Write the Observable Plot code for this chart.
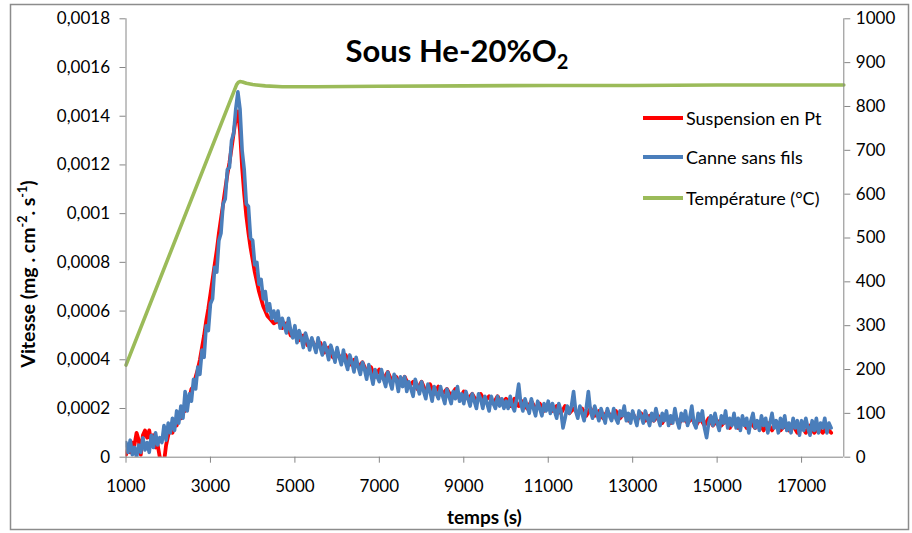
<!DOCTYPE html>
<html>
<head>
<meta charset="utf-8">
<script src="https://cdn.jsdelivr.net/npm/d3@7"></script>
<script src="https://cdn.jsdelivr.net/npm/@observablehq/plot@0.6"></script>
<style>
  html, body { margin: 0; padding: 0; background: #fff; }
  #chart { position: relative; width: 912px; height: 533px; }
</style>
</head>
<body>
<div id="chart"></div>
<script>
// ---- data (time in s, velocity in mg.cm-2.s-1, temperature in °C) ----
const xTicks = [1000, 3000, 5000, 7000, 9000, 11000, 13000, 15000, 17000];
const yTicks = [0, 0.0002, 0.0004, 0.0006, 0.0008, 0.001, 0.0012, 0.0014, 0.0016, 0.0018];
const tempTicks = [0, 100, 200, 300, 400, 500, 600, 700, 800, 900, 1000];
const seriesNames = ["Suspension en Pt", "Canne sans fils", "Température (°C)"];
const seriesColors = ["#FF0000", "#4A7EBB", "#9BBB59"];

const suspensionPt = [
  [1000,0.1e-4],[1050,0.4e-4],[1100,0.2e-4],[1150,0.6e-4],[1200,0.5e-4],[1250,1.0e-4],[1300,0.7e-4],[1350,0.1e-4],
  [1400,0.9e-4],[1450,1.1e-4],[1500,0.8e-4],[1550,1.1e-4],[1600,0.6e-4],[1650,0.9e-4],[1700,0.4e-4],[1750,0.5e-4],
  [1800,0.0],[1850,-0.4e-4],[1900,-0.2e-4],[1950,0.5e-4],[2000,0.9e-4],[2050,1.2e-4],[2100,1.0e-4],[2150,1.5e-4],
  [2200,1.3e-4],[2250,1.7e-4],[2300,1.6e-4],[2350,2.0e-4],[2400,1.9e-4],[2450,2.3e-4],[2500,2.4e-4],[2550,2.8e-4],
  [2600,2.9e-4],[2650,3.3e-4],[2700,3.6e-4],[2750,4.0e-4],[2800,4.5e-4],[2850,5.0e-4],[2900,5.6e-4],[2950,6.1e-4],
  [3000,6.7e-4],[3050,7.3e-4],[3100,7.9e-4],[3150,8.5e-4],[3200,9.2e-4],[3250,9.8e-4],[3300,10.4e-4],[3350,11.0e-4],
  [3400,11.6e-4],[3450,12.1e-4],[3500,12.7e-4],[3550,13.3e-4],[3600,13.9e-4],[3650,14.2e-4],[3700,13.4e-4],[3750,11.9e-4],
  [3800,10.8e-4],[3850,9.9e-4],[3900,9.2e-4],[3950,8.6e-4],[4000,8.1e-4],[4050,7.6e-4],[4100,7.2e-4],[4150,6.8e-4],
  [4200,6.5e-4],[4250,6.2e-4],[4300,6.0e-4],[4350,5.8e-4],[4400,5.7e-4],[4450,5.6e-4],[4500,5.5e-4],
  [4600,5.6e-4],[4700,5.3e-4],[4800,5.5e-4],[4900,5.0e-4],[5000,5.2e-4],[5100,4.8e-4],[5200,5.0e-4],[5300,4.6e-4],
  [5400,4.8e-4],[5500,4.5e-4],[5600,4.7e-4],[5700,4.3e-4],[5800,4.5e-4],[5900,4.1e-4],[6000,4.3e-4],[6100,4.0e-4],
  [6200,4.2e-4],[6300,3.8e-4],[6400,4.0e-4],[6500,3.7e-4],[6600,3.9e-4],[6700,3.5e-4],[6800,3.7e-4],[6900,3.3e-4],
  [7000,3.6e-4],[7100,3.2e-4],[7200,3.5e-4],[7300,3.1e-4],[7400,3.3e-4],[7500,3.0e-4],[7600,3.3e-4],[7700,2.9e-4],
  [7800,3.1e-4],[7900,2.8e-4],[8000,3.1e-4],[8100,2.7e-4],[8200,3.0e-4],[8300,2.6e-4],[8400,2.9e-4],[8500,2.6e-4],
  [8600,2.8e-4],[8700,2.5e-4],[8800,2.8e-4],[8900,2.4e-4],[9000,2.7e-4],[9100,2.4e-4],[9200,2.6e-4],[9300,2.3e-4],
  [9400,2.6e-4],[9500,2.3e-4],[9600,2.5e-4],[9700,2.2e-4],[9800,2.5e-4],[9900,2.2e-4],[10000,2.4e-4],[10100,2.1e-4],
  [10200,2.4e-4],[10300,2.1e-4],[10400,2.3e-4],[10500,2.0e-4],[10600,2.3e-4],[10700,2.0e-4],[10800,2.2e-4],[10900,1.9e-4],
  [11000,2.2e-4],[11100,1.9e-4],[11200,2.1e-4],[11300,1.8e-4],[11400,2.1e-4],[11500,1.8e-4],[11600,2.0e-4],[11700,1.8e-4],
  [11800,2.0e-4],[11900,1.7e-4],[12000,2.0e-4],[12100,1.7e-4],[12200,1.9e-4],[12300,1.6e-4],[12400,1.9e-4],[12500,1.6e-4],
  [12600,1.9e-4],[12700,1.6e-4],[12800,1.8e-4],[12900,1.5e-4],[13000,1.8e-4],[13100,1.5e-4],[13200,1.8e-4],[13300,1.5e-4],
  [13400,1.7e-4],[13500,1.5e-4],[13600,1.7e-4],[13700,1.4e-4],[13800,1.7e-4],[13900,1.4e-4],[14000,1.7e-4],[14100,1.4e-4],
  [14200,1.6e-4],[14300,1.4e-4],[14400,1.6e-4],[14500,1.3e-4],[14600,1.6e-4],[14700,1.3e-4],[14800,1.6e-4],[14900,1.3e-4],
  [15000,1.5e-4],[15100,1.3e-4],[15200,1.5e-4],[15300,1.2e-4],[15400,1.5e-4],[15500,1.2e-4],[15600,1.5e-4],[15700,1.2e-4],
  [15800,1.4e-4],[15900,1.2e-4],[16000,1.4e-4],[16100,1.1e-4],[16200,1.4e-4],[16300,1.1e-4],[16400,1.4e-4],[16500,1.1e-4],
  [16600,1.3e-4],[16700,1.1e-4],[16800,1.3e-4],[16900,1.0e-4],[17000,1.3e-4],[17100,1.0e-4],[17200,1.3e-4],[17300,1.0e-4],
  [17400,1.2e-4],[17500,1.0e-4],[17600,1.2e-4],[17700,1.0e-4]
];

const canneSansFils = [
  [1000,0.6e-4],[1050,0.2e-4],[1100,0.7e-4],[1150,0.1e-4],[1200,0.4e-4],[1250,0.0],[1300,0.5e-4],[1350,0.2e-4],
  [1400,0.8e-4],[1450,0.3e-4],[1500,0.6e-4],[1550,0.2e-4],[1600,0.9e-4],[1650,0.4e-4],[1700,1.0e-4],[1750,0.5e-4],
  [1800,0.8e-4],[1850,0.6e-4],[1900,1.3e-4],[1950,0.7e-4],[2000,1.4e-4],[2050,1.0e-4],[2100,1.6e-4],[2150,1.1e-4],
  [2200,1.9e-4],[2250,1.4e-4],[2300,2.1e-4],[2350,1.6e-4],[2400,2.7e-4],[2450,1.9e-4],[2500,2.6e-4],[2550,2.3e-4],
  [2600,3.2e-4],[2650,2.8e-4],[2700,3.7e-4],[2750,3.4e-4],[2800,4.4e-4],[2850,4.1e-4],[2900,5.4e-4],[2950,5.2e-4],
  [3000,6.3e-4],[3050,6.5e-4],[3100,7.8e-4],[3150,7.6e-4],[3200,8.9e-4],[3250,9.2e-4],[3300,10.4e-4],[3350,10.6e-4],
  [3400,11.8e-4],[3450,11.9e-4],[3500,13.0e-4],[3550,13.3e-4],[3600,14.3e-4],[3650,15.0e-4],[3700,14.3e-4],[3750,12.6e-4],
  [3800,11.8e-4],[3850,10.4e-4],[3900,10.3e-4],[3950,9.0e-4],[4000,8.9e-4],[4050,7.9e-4],[4100,8.0e-4],[4150,7.1e-4],
  [4200,7.3e-4],[4250,6.5e-4],[4300,6.8e-4],[4350,6.0e-4],[4400,6.3e-4],[4450,5.7e-4],[4500,6.0e-4],
  [4550,5.6e-4],[4600,6.0e-4],[4650,5.3e-4],[4700,5.7e-4],[4750,5.4e-4],[4800,5.1e-4],[4850,5.7e-4],[4900,5.2e-4],[4950,4.9e-4],[5000,5.4e-4],
  [5050,4.7e-4],[5100,5.2e-4],[5150,4.9e-4],[5200,4.5e-4],[5250,5.1e-4],[5300,4.8e-4],[5350,4.4e-4],[5400,4.9e-4],[5450,4.6e-4],[5500,4.3e-4],
  [5550,4.9e-4],[5600,4.5e-4],[5650,4.2e-4],[5700,4.7e-4],[5750,4.4e-4],[5800,4.0e-4],[5850,4.6e-4],[5900,4.3e-4],[5950,3.9e-4],[6000,4.5e-4],
  [6050,4.1e-4],[6100,3.8e-4],[6150,4.4e-4],[6200,3.9e-4],[6250,3.6e-4],[6300,4.2e-4],[6350,3.9e-4],[6400,3.5e-4],[6450,4.1e-4],[6500,3.7e-4],
  [6550,3.4e-4],[6600,3.9e-4],[6650,3.6e-4],[6700,3.2e-4],[6750,3.8e-4],[6800,3.4e-4],[6850,3.0e-4],[6900,3.6e-4],[6950,3.3e-4],[7000,3.1e-4],
  [7050,3.6e-4],[7100,3.2e-4],[7150,2.9e-4],[7200,3.5e-4],[7250,3.1e-4],[7300,2.8e-4],[7350,3.4e-4],[7400,3.2e-4],[7450,2.7e-4],[7500,3.3e-4],
  [7550,2.9e-4],[7600,3.3e-4],[7650,2.7e-4],[7700,3.1e-4],[7750,2.8e-4],[7800,2.5e-4],[7850,3.2e-4],[7900,2.9e-4],[7950,2.6e-4],[8000,3.1e-4],
  [8050,2.7e-4],[8100,2.4e-4],[8150,3.0e-4],[8200,2.7e-4],[8250,2.3e-4],[8300,2.9e-4],[8350,2.6e-4],[8400,2.4e-4],[8450,2.9e-4],[8500,2.5e-4],
  [8550,2.2e-4],[8600,2.8e-4],[8650,2.5e-4],[8700,2.2e-4],[8750,2.7e-4],[8800,2.4e-4],[8850,2.9e-4],[8900,2.3e-4],[8950,2.6e-4],[9000,2.2e-4],
  [9050,2.7e-4],[9100,2.4e-4],[9150,2.1e-4],[9200,2.6e-4],[9250,2.3e-4],[9300,2.0e-4],[9350,2.6e-4],[9400,2.4e-4],[9450,2.0e-4],[9500,2.5e-4],
  [9550,2.2e-4],[9600,1.9e-4],[9650,2.5e-4],[9700,2.2e-4],[9750,2.0e-4],[9800,2.5e-4],[9850,2.1e-4],[9900,2.4e-4],[9950,2.0e-4],[10000,2.3e-4],
  [10050,2.0e-4],[10100,2.5e-4],[10150,2.1e-4],[10200,1.9e-4],[10250,2.4e-4],[10300,3.0e-4],[10350,2.2e-4],[10400,1.9e-4],[10450,2.4e-4],[10500,2.1e-4],
  [10550,1.8e-4],[10600,2.4e-4],[10650,2.0e-4],[10700,1.7e-4],[10750,2.3e-4],[10800,2.0e-4],[10850,1.7e-4],[10900,2.2e-4],[10950,1.9e-4],[11000,2.3e-4],
  [11050,1.8e-4],[11100,2.2e-4],[11150,1.9e-4],[11200,1.6e-4],[11250,2.2e-4],[11300,1.9e-4],[11350,1.2e-4],[11400,1.6e-4],[11450,2.1e-4],[11500,1.8e-4],
  [11550,2.1e-4],[11600,2.7e-4],[11650,1.9e-4],[11700,1.6e-4],[11750,2.1e-4],[11800,1.8e-4],[11850,1.5e-4],[11900,2.0e-4],[11950,2.7e-4],[12000,1.9e-4],
  [12050,1.6e-4],[12100,2.1e-4],[12150,1.8e-4],[12200,1.5e-4],[12250,2.0e-4],[12300,1.7e-4],[12350,1.4e-4],[12400,2.0e-4],[12450,1.7e-4],[12500,1.5e-4],
  [12550,2.0e-4],[12600,1.6e-4],[12650,1.4e-4],[12700,1.9e-4],[12750,1.7e-4],[12800,2.1e-4],[12850,1.5e-4],[12900,1.8e-4],[12950,1.4e-4],[13000,1.9e-4],
  [13050,1.6e-4],[13100,1.3e-4],[13150,1.9e-4],[13200,1.7e-4],[13250,1.4e-4],[13300,1.9e-4],[13350,1.6e-4],[13400,1.3e-4],[13450,1.8e-4],[13500,1.5e-4],
  [13550,2.0e-4],[13600,1.6e-4],[13650,1.3e-4],[13700,1.8e-4],[13750,1.5e-4],[13800,1.9e-4],[13850,1.3e-4],[13900,1.7e-4],[13950,1.4e-4],[14000,2.0e-4],
  [14050,1.5e-4],[14100,1.2e-4],[14150,1.8e-4],[14200,1.5e-4],[14250,1.9e-4],[14300,1.3e-4],[14350,1.6e-4],[14400,2.1e-4],[14450,1.4e-4],[14500,1.2e-4],
  [14550,1.8e-4],[14600,1.5e-4],[14650,1.9e-4],[14700,1.2e-4],[14750,0.8e-4],[14800,1.4e-4],[14850,1.7e-4],[14900,1.3e-4],[14950,1.8e-4],[15000,1.4e-4],
  [15050,1.1e-4],[15100,1.7e-4],[15150,1.4e-4],[15200,1.9e-4],[15250,1.2e-4],[15300,1.6e-4],[15350,1.3e-4],[15400,1.8e-4],[15450,1.2e-4],[15500,1.6e-4],
  [15550,1.1e-4],[15600,1.7e-4],[15650,1.3e-4],[15700,1.6e-4],[15750,1.0e-4],[15800,1.5e-4],[15850,1.8e-4],[15900,1.2e-4],[15950,1.5e-4],[16000,1.1e-4],
  [16050,1.7e-4],[16100,1.3e-4],[16150,1.6e-4],[16200,1.0e-4],[16250,1.4e-4],[16300,1.8e-4],[16350,1.2e-4],[16400,1.5e-4],[16450,1.0e-4],[16500,1.6e-4],
  [16550,1.2e-4],[16600,1.7e-4],[16650,1.1e-4],[16700,1.4e-4],[16750,1.0e-4],[16800,1.6e-4],[16850,1.2e-4],[16900,1.5e-4],[16950,0.9e-4],[17000,1.5e-4],
  [17050,1.1e-4],[17100,1.6e-4],[17150,1.2e-4],[17200,0.9e-4],[17250,1.5e-4],[17300,1.1e-4],[17350,1.6e-4],[17400,1.0e-4],[17450,1.4e-4],[17500,1.2e-4],
  [17550,1.6e-4],[17600,1.0e-4],[17650,1.4e-4],[17700,1.2e-4]
];

const temperature = [
  [1000,210],[3620,850],[3660,855],[3700,857],[3760,856],[3850,853],[4000,850],[4300,847],[4700,845],
  [5500,845],[7000,846],[9000,847],[11000,848],[13000,848],[15000,849],[18000,849]
];

// ---- chart ----
const yMax = 0.0018, tMax = 1000;
const toY = T => T * yMax / tMax;   // maps the right (°C) axis onto the left axis range
const gray = "#868686";
const font = "Lato, 'Open Sans', sans-serif";

const plot = Plot.plot({
  width: 912,
  height: 533,
  marginLeft: 125.5,
  marginRight: 68.7,
  marginTop: 18.3,
  marginBottom: 76.3,
  style: { fontFamily: font, fontSize: "17px", color: "#000", background: "transparent" },
  x: { domain: [1000, 18000] },
  y: { domain: [0, yMax] },
  marks: [
    Plot.line(suspensionPt, { x: d => d[0], y: d => d[1], stroke: seriesColors[0], strokeWidth: 3.8, clip: true }),
    Plot.line(canneSansFils, { x: d => d[0], y: d => d[1], stroke: seriesColors[1], strokeWidth: 3.6, clip: true }),
    Plot.line(temperature, { x: d => d[0], y: d => toY(d[1]), stroke: seriesColors[2], strokeWidth: 3.6 }),
    Plot.ruleY([0], { stroke: gray, strokeWidth: 1 }),
    Plot.ruleX([1000, 18000], { stroke: gray, strokeWidth: 1 }),
    Plot.axisX({ ticks: xTicks, tickFormat: d => String(d), label: null, stroke: gray, fill: "#000",
                 tickSize: 6, tickPadding: 17 }),
    Plot.axisY({ ticks: yTicks, tickFormat: d => d === 0 ? "0" : String(d).replace(".", ","),
                 label: null, stroke: gray, fill: "#000", tickSize: 6, tickPadding: 10 }),
    Plot.axisY({ ticks: tempTicks.map(toY), tickFormat: d => String(Math.round(d * tMax / yMax)),
                 anchor: "right", label: null, stroke: gray, fill: "#000", tickSize: 6, tickPadding: 6 })
  ]
});

document.getElementById("chart").appendChild(plot);

// ---- decorations: outer frame, title, axis titles, legend ----
const svg = d3.select(plot);
svg.append("rect").attr("x", 10.5).attr("y", 4.5).attr("width", 898).attr("height", 525)
  .attr("fill", "none").attr("stroke", "#8c8c8c").attr("stroke-width", 1.5);

const title = svg.append("text").attr("x", 457).attr("y", 62).attr("text-anchor", "middle")
  .attr("font-family", font).attr("font-weight", "bold").attr("font-size", 31).attr("fill", "#000");
title.append("tspan").text("Sous He-20%O");
title.append("tspan").attr("dy", 7).attr("font-size", 20).text("2");

const yl = svg.append("text").attr("transform", "translate(35,274) rotate(-90)").attr("text-anchor", "middle")
  .attr("font-family", font).attr("font-weight", "bold").attr("font-size", 19.5).attr("fill", "#000");
yl.append("tspan").text("Vitesse (mg . cm");
yl.append("tspan").attr("dy", -8).attr("font-size", 12.5).text("-2");
yl.append("tspan").attr("dy", 8).text(". s");
yl.append("tspan").attr("dy", -8).attr("font-size", 12.5).text("-1");
yl.append("tspan").attr("dy", 8).text(")");

svg.append("text").attr("x", 484.4).attr("y", 524).attr("text-anchor", "middle")
  .attr("font-family", font).attr("font-weight", "bold").attr("font-size", 19).attr("fill", "#000")
  .text("temps (s)");

const legendY = [118, 157, 198];
seriesNames.forEach((name, i) => {
  svg.append("line").attr("x1", 643).attr("x2", 683).attr("y1", legendY[i]).attr("y2", legendY[i])
    .attr("stroke", seriesColors[i]).attr("stroke-width", 4);
  svg.append("text").attr("x", 686).attr("y", legendY[i] + 6.5).attr("text-anchor", "start")
    .attr("font-family", font).attr("font-size", 18).attr("fill", "#000").text(name);
});
</script>
</body>
</html>
